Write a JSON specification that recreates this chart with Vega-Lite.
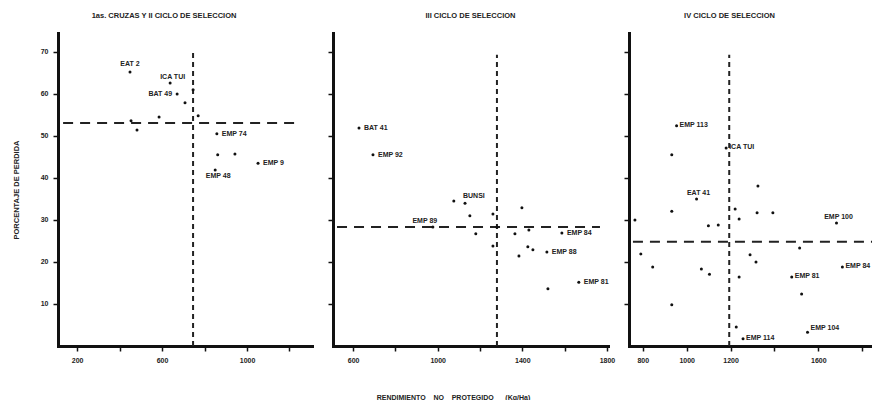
{
  "$schema": "https://vega.github.io/schema/vega-lite/v6.json",
  "background": "white",
  "padding": {"left": 12, "top": 11, "right": 0, "bottom": 0},
  "bounds": "flush",
  "spacing": 21,
  "config": {
    "view": {"stroke": null},
    "font": "Liberation Sans",
    "axis": {
      "grid": false,
      "domainColor": "#111",
      "domainWidth": 3,
      "domainCap": "square",
      "tickColor": "#111",
      "tickWidth": 1.5,
      "tickSize": 5,
      "labelPadding": 5,
      "labelFont": "Liberation Sans",
      "labelFontWeight": "bold",
      "labelFontSize": 7,
      "labelColor": "#222",
      "titleFont": "Liberation Sans",
      "titleFontSize": 7.5,
      "titleColor": "#222"
    },
    "title": {"font": "Liberation Sans", "fontSize": 7.5, "fontWeight": "bold", "color": "#222", "offset": 14}
  },
  "datasets": {
    "pts": [
      {"panel": "P1", "rend": 449, "perd": 65.2, "label": "EAT 2"},
      {"panel": "P1", "rend": 638, "perd": 62.6, "label": "ICA TUI"},
      {"panel": "P1", "rend": 671, "perd": 60.0, "label": "BAT 49"},
      {"panel": "P1", "rend": 746, "perd": 61.0, "label": ""},
      {"panel": "P1", "rend": 708, "perd": 57.9, "label": ""},
      {"panel": "P1", "rend": 770, "perd": 54.8, "label": ""},
      {"panel": "P1", "rend": 586, "perd": 54.5, "label": ""},
      {"panel": "P1", "rend": 454, "perd": 53.6, "label": ""},
      {"panel": "P1", "rend": 482, "perd": 51.4, "label": ""},
      {"panel": "P1", "rend": 858, "perd": 50.5, "label": "EMP 74"},
      {"panel": "P1", "rend": 862, "perd": 45.5, "label": ""},
      {"panel": "P1", "rend": 943, "perd": 45.7, "label": ""},
      {"panel": "P1", "rend": 1052, "perd": 43.5, "label": "EMP 9"},
      {"panel": "P1", "rend": 850, "perd": 41.9, "label": "EMP 48"},
      {"panel": "P2", "rend": 628, "perd": 51.9, "label": "BAT 41"},
      {"panel": "P2", "rend": 694, "perd": 45.5, "label": "EMP 92"},
      {"panel": "P2", "rend": 1076, "perd": 34.5, "label": ""},
      {"panel": "P2", "rend": 1129, "perd": 34.0, "label": "BUNSI"},
      {"panel": "P2", "rend": 1152, "perd": 31.0, "label": ""},
      {"panel": "P2", "rend": 1261, "perd": 31.4, "label": ""},
      {"panel": "P2", "rend": 1398, "perd": 32.9, "label": ""},
      {"panel": "P2", "rend": 977, "perd": 28.3, "label": "EMP 89"},
      {"panel": "P2", "rend": 1180, "perd": 26.7, "label": ""},
      {"panel": "P2", "rend": 1280, "perd": 28.3, "label": ""},
      {"panel": "P2", "rend": 1261, "perd": 23.8, "label": ""},
      {"panel": "P2", "rend": 1365, "perd": 26.7, "label": ""},
      {"panel": "P2", "rend": 1431, "perd": 27.6, "label": ""},
      {"panel": "P2", "rend": 1384, "perd": 21.4, "label": ""},
      {"panel": "P2", "rend": 1426, "perd": 23.6, "label": ""},
      {"panel": "P2", "rend": 1450, "perd": 22.9, "label": ""},
      {"panel": "P2", "rend": 1516, "perd": 22.4, "label": "EMP 88"},
      {"panel": "P2", "rend": 1587, "perd": 26.9, "label": "EMP 84"},
      {"panel": "P2", "rend": 1667, "perd": 15.2, "label": "EMP 81"},
      {"panel": "P2", "rend": 1521, "perd": 13.6, "label": ""},
      {"panel": "P3", "rend": 954, "perd": 52.4, "label": "EMP 113"},
      {"panel": "P3", "rend": 1180, "perd": 47.1, "label": "ICA TUI"},
      {"panel": "P3", "rend": 932, "perd": 45.5, "label": ""},
      {"panel": "P3", "rend": 1325, "perd": 38.1, "label": ""},
      {"panel": "P3", "rend": 1045, "perd": 35.0, "label": "EAT 41"},
      {"panel": "P3", "rend": 932, "perd": 32.1, "label": ""},
      {"panel": "P3", "rend": 764, "perd": 30.0, "label": ""},
      {"panel": "P3", "rend": 1099, "perd": 28.6, "label": ""},
      {"panel": "P3", "rend": 1144, "perd": 28.8, "label": ""},
      {"panel": "P3", "rend": 1221, "perd": 32.6, "label": ""},
      {"panel": "P3", "rend": 1239, "perd": 30.2, "label": ""},
      {"panel": "P3", "rend": 1321, "perd": 31.7, "label": ""},
      {"panel": "P3", "rend": 1393, "perd": 31.7, "label": ""},
      {"panel": "P3", "rend": 1683, "perd": 29.3, "label": "EMP 100"},
      {"panel": "P3", "rend": 791, "perd": 21.9, "label": ""},
      {"panel": "P3", "rend": 845, "perd": 18.8, "label": ""},
      {"panel": "P3", "rend": 1067, "perd": 18.3, "label": ""},
      {"panel": "P3", "rend": 1104, "perd": 17.1, "label": ""},
      {"panel": "P3", "rend": 932, "perd": 9.8, "label": ""},
      {"panel": "P3", "rend": 1289, "perd": 21.7, "label": ""},
      {"panel": "P3", "rend": 1316, "perd": 20.0, "label": ""},
      {"panel": "P3", "rend": 1515, "perd": 23.3, "label": ""},
      {"panel": "P3", "rend": 1710, "perd": 18.8, "label": "EMP 84"},
      {"panel": "P3", "rend": 1479, "perd": 16.4, "label": "EMP 81"},
      {"panel": "P3", "rend": 1239, "perd": 16.4, "label": ""},
      {"panel": "P3", "rend": 1524, "perd": 12.4, "label": ""},
      {"panel": "P3", "rend": 1551, "perd": 3.3, "label": "EMP 104"},
      {"panel": "P3", "rend": 1226, "perd": 4.5, "label": ""},
      {"panel": "P3", "rend": 1257, "perd": 1.7, "label": "EMP 114"}
    ],
    "refs": [
      {"panel": "P1", "kind": "v", "rend": 746, "perd": 0, "perd2": 69.8},
      {"panel": "P1", "kind": "h", "rend": 134, "rend2": 1235, "perd": 53.1},
      {"panel": "P2", "kind": "v", "rend": 1280, "perd": 0, "perd2": 69.3},
      {"panel": "P2", "kind": "h", "rend": 524, "rend2": 1767, "perd": 28.3},
      {"panel": "P3", "kind": "v", "rend": 1194, "perd": 0, "perd2": 69.3},
      {"panel": "P3", "kind": "h", "rend": 755, "rend2": 1845, "perd": 24.8}
    ]
  },
  "hconcat": [
    {
      "width": 254,
      "height": 313,
      "title": {"text": "1as. CRUZAS Y II CICLO DE SELECCION", "dx": -21},
      "encoding": {
        "x": {"field": "rend", "type": "quantitative", "scale": {"domain": [110, 1306], "nice": false, "zero": false},
          "axis": {"title": null, "values": [200, 400, 600, 800, 1000, 1200], "format": "d",
            "labelExpr": "indexof([200, 600, 1000], datum.value) >= 0 ? datum.label : ''"}},
        "y": {"field": "perd", "type": "quantitative", "scale": {"domain": [0, 74.5], "nice": false},
          "axis": {"title": "PORCENTAJE DE PERDIDA", "titlePadding": 20, "values": [10, 20, 30, 40, 50, 60, 70], "format": "d"}}
      },
      "layer": [
        {
          "data": {"name": "refs"},
          "transform": [{"filter": "datum.panel == 'P1' && datum.kind == 'v'"}],
          "mark": {"type": "rule", "strokeWidth": 2, "strokeDash": [5, 4], "color": "#222"},
          "encoding": {"y2": {"field": "perd2"}}
        },
        {
          "data": {"name": "refs"},
          "transform": [{"filter": "datum.panel == 'P1' && datum.kind == 'h'"}],
          "mark": {"type": "rule", "strokeWidth": 2, "strokeDash": [10, 7], "color": "#222"},
          "encoding": {"x2": {"field": "rend2"}}
        },
        {
          "data": {"name": "pts"},
          "transform": [{"filter": "datum.panel == 'P1'"}],
          "mark": {"type": "circle", "size": 9, "color": "#111", "opacity": 1},
          "encoding": {}
        },
        {
          "data": {"name": "pts"},
          "transform": [{"filter": "datum.panel == 'P1' && indexof(['EMP 74', 'EMP 9'], datum.label) >= 0"}],
          "mark": {"type": "text", "align": "left", "baseline": "middle", "dx": 5, "fontSize": 7, "fontWeight": "bold", "color": "#222"},
          "encoding": {"text": {"field": "label"}}
        },
        {
          "data": {"name": "pts"},
          "transform": [{"filter": "datum.panel == 'P1' && datum.label == 'EAT 2'"}],
          "mark": {"type": "text", "align": "center", "baseline": "bottom", "dy": -5, "fontSize": 7, "fontWeight": "bold", "color": "#222"},
          "encoding": {"text": {"field": "label"}}
        },
        {
          "data": {"name": "pts"},
          "transform": [{"filter": "datum.panel == 'P1' && datum.label == 'ICA TUI'"}],
          "mark": {"type": "text", "align": "left", "baseline": "bottom", "dx": -10, "dy": -3, "fontSize": 7, "fontWeight": "bold", "color": "#222"},
          "encoding": {"text": {"field": "label"}}
        },
        {
          "data": {"name": "pts"},
          "transform": [{"filter": "datum.panel == 'P1' && datum.label == 'BAT 49'"}],
          "mark": {"type": "text", "align": "right", "baseline": "middle", "dx": -5, "fontSize": 7, "fontWeight": "bold", "color": "#222"},
          "encoding": {"text": {"field": "label"}}
        },
        {
          "data": {"name": "pts"},
          "transform": [{"filter": "datum.panel == 'P1' && datum.label == 'EMP 48'"}],
          "mark": {"type": "text", "align": "center", "baseline": "top", "dx": 3, "dy": 2, "fontSize": 7, "fontWeight": "bold", "color": "#222"},
          "encoding": {"text": {"field": "label"}}
        }
      ]
    },
    {
      "width": 275,
      "height": 313,
      "title": {"text": "III CICLO DE SELECCION"},
      "encoding": {
        "x": {"field": "rend", "type": "quantitative", "scale": {"domain": [505, 1805], "nice": false, "zero": false},
          "axis": {"title": "RENDIMIENTO\u00a0\u00a0\u00a0\u00a0NO\u00a0\u00a0\u00a0\u00a0PROTEGIDO\u00a0\u00a0\u00a0\u00a0\u00a0\u00a0(Kg/Ha)", "titleFontWeight": "bold", "titleFontSize": 7,
            "titleX": 120, "titleY": 51, "titleAlign": "center", "titleBaseline": "middle",
            "values": [600, 800, 1000, 1200, 1400, 1600, 1800], "format": "d",
            "labelExpr": "indexof([600, 1000, 1400, 1800], datum.value) >= 0 ? datum.label : ''"}},
        "y": {"field": "perd", "type": "quantitative", "scale": {"domain": [0, 74.5], "nice": false},
          "axis": {"title": null, "labels": false, "values": [10, 20, 30, 40, 50, 60, 70]}}
      },
      "layer": [
        {
          "data": {"name": "refs"},
          "transform": [{"filter": "datum.panel == 'P2' && datum.kind == 'v'"}],
          "mark": {"type": "rule", "strokeWidth": 2, "strokeDash": [5, 4], "color": "#222"},
          "encoding": {"y2": {"field": "perd2"}}
        },
        {
          "data": {"name": "refs"},
          "transform": [{"filter": "datum.panel == 'P2' && datum.kind == 'h'"}],
          "mark": {"type": "rule", "strokeWidth": 2, "strokeDash": [10, 7], "color": "#222"},
          "encoding": {"x2": {"field": "rend2"}}
        },
        {
          "data": {"name": "pts"},
          "transform": [{"filter": "datum.panel == 'P2'"}],
          "mark": {"type": "circle", "size": 9, "color": "#111", "opacity": 1},
          "encoding": {}
        },
        {
          "data": {"name": "pts"},
          "transform": [{"filter": "datum.panel == 'P2' && indexof(['BAT 41', 'EMP 92', 'EMP 84', 'EMP 88', 'EMP 81'], datum.label) >= 0"}],
          "mark": {"type": "text", "align": "left", "baseline": "middle", "dx": 5, "fontSize": 7, "fontWeight": "bold", "color": "#222"},
          "encoding": {"text": {"field": "label"}}
        },
        {
          "data": {"name": "pts"},
          "transform": [{"filter": "datum.panel == 'P2' && datum.label == 'BUNSI'"}],
          "mark": {"type": "text", "align": "left", "baseline": "bottom", "dx": -2, "dy": -4, "fontSize": 7, "fontWeight": "bold", "color": "#222"},
          "encoding": {"text": {"field": "label"}}
        },
        {
          "data": {"name": "pts"},
          "transform": [{"filter": "datum.panel == 'P2' && datum.label == 'EMP 89'"}],
          "mark": {"type": "text", "align": "center", "baseline": "bottom", "dx": -8, "dy": -3, "fontSize": 7, "fontWeight": "bold", "color": "#222"},
          "encoding": {"text": {"field": "label"}}
        }
      ]
    },
    {
      "width": 243,
      "height": 313,
      "title": {"text": "IV  CICLO DE SELECCION", "dx": -21},
      "encoding": {
        "x": {"field": "rend", "type": "quantitative", "scale": {"domain": [737, 1845], "nice": false, "zero": false},
          "axis": {"title": null, "values": [800, 1000, 1200, 1400, 1600, 1800], "format": "d",
            "labelExpr": "indexof([800, 1000, 1200, 1600], datum.value) >= 0 ? datum.label : ''"}},
        "y": {"field": "perd", "type": "quantitative", "scale": {"domain": [0, 74.5], "nice": false},
          "axis": {"title": null, "labels": false, "values": [10, 20, 30, 40, 50, 60, 70]}}
      },
      "layer": [
        {
          "data": {"name": "refs"},
          "transform": [{"filter": "datum.panel == 'P3' && datum.kind == 'v'"}],
          "mark": {"type": "rule", "strokeWidth": 2, "strokeDash": [5, 4], "color": "#222"},
          "encoding": {"y2": {"field": "perd2"}}
        },
        {
          "data": {"name": "refs"},
          "transform": [{"filter": "datum.panel == 'P3' && datum.kind == 'h'"}],
          "mark": {"type": "rule", "strokeWidth": 2, "strokeDash": [10, 7], "color": "#222"},
          "encoding": {"x2": {"field": "rend2"}}
        },
        {
          "data": {"name": "pts"},
          "transform": [{"filter": "datum.panel == 'P3'"}],
          "mark": {"type": "circle", "size": 9, "color": "#111", "opacity": 1},
          "encoding": {}
        },
        {
          "data": {"name": "pts"},
          "transform": [{"filter": "datum.panel == 'P3' && indexof(['EMP 113', 'ICA TUI', 'EMP 84', 'EMP 81', 'EMP 114'], datum.label) >= 0"}],
          "mark": {"type": "text", "align": "left", "baseline": "middle", "dx": 3, "dy": -1, "fontSize": 7, "fontWeight": "bold", "color": "#222"},
          "encoding": {"text": {"field": "label"}}
        },
        {
          "data": {"name": "pts"},
          "transform": [{"filter": "datum.panel == 'P3' && datum.label == 'EMP 104'"}],
          "mark": {"type": "text", "align": "left", "baseline": "middle", "dx": 3, "dy": -4, "fontSize": 7, "fontWeight": "bold", "color": "#222"},
          "encoding": {"text": {"field": "label"}}
        },
        {
          "data": {"name": "pts"},
          "transform": [{"filter": "datum.panel == 'P3' && indexof(['EAT 41', 'EMP 100'], datum.label) >= 0"}],
          "mark": {"type": "text", "align": "center", "baseline": "bottom", "dx": 2, "dy": -3, "fontSize": 7, "fontWeight": "bold", "color": "#222"},
          "encoding": {"text": {"field": "label"}}
        }
      ]
    }
  ]
}
